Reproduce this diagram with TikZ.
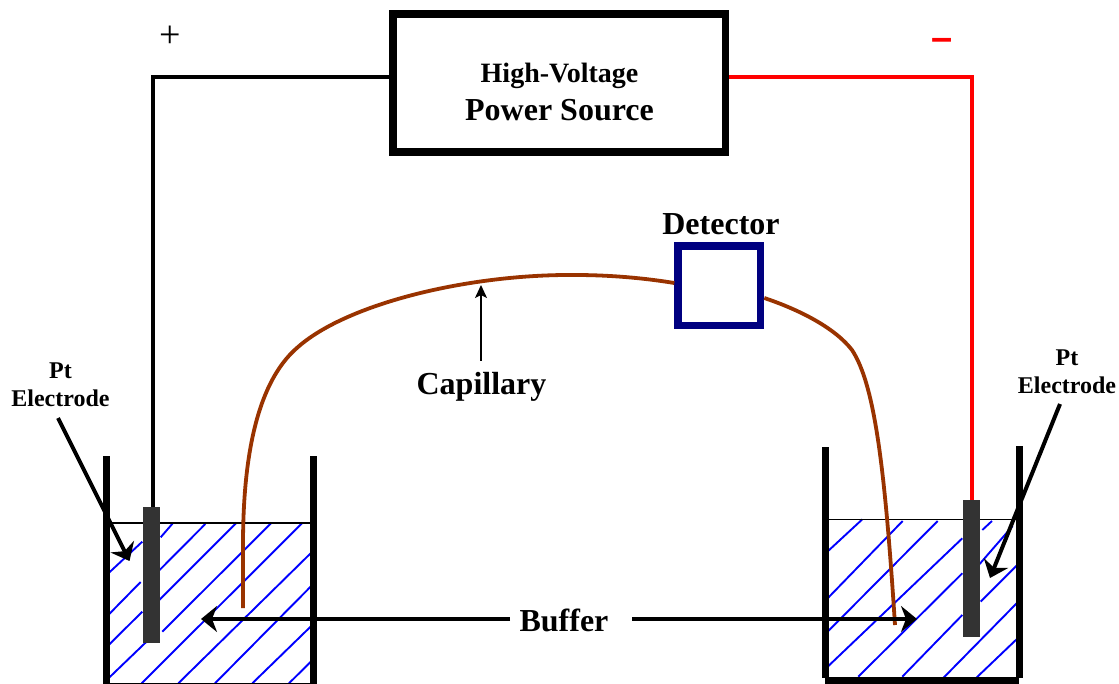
\documentclass[tikz,border=0pt]{standalone}
\usepackage{fontspec}
\setmainfont{Liberation Serif}
\newfontfamily\plussans{Liberation Sans}
\usetikzlibrary{arrows.meta,calc}
\definecolor{capcol}{HTML}{993300}
\definecolor{detcol}{HTML}{000080}
\definecolor{hatchcol}{HTML}{0000FF}
\definecolor{elecol}{HTML}{333333}
\tikzset{
  wall/.style={line width=7.5pt,black,line cap=butt},
  hatchline/.style={hatchcol,line width=1.9pt},
  waterline/.style={black,line width=1.6pt},
  electrode/.style={fill=elecol,draw=none,minimum width=17.5pt,inner sep=0pt},
  capline/.style={capcol,line width=3.8pt},
  wire/.style={line width=4pt,black},
  redwire/.style={line width=4pt,red},
  bigarrow/.style={line width=4pt,-{Stealth[length=16pt,width=26pt,inset=5pt]}},
  lbl/.style={font=\bfseries,inner sep=0pt,align=center},
}
\begin{document}
\begin{tikzpicture}[x=1pt,y=-1pt]
\useasboundingbox (0,0) rectangle (1119,684);
\fill[white] (0,0) rectangle (1119,684);
% hatching left (zoom coordinates)
\begin{scope}[shift={(90,450)},x=0.3333pt,y=-0.3333pt,hatchline]
\draw (55,370)--(157,275) (212,262)--(250,218);
\draw (48,502)--(152,396) (203,366)--(346,222);
\draw (44,597)--(157,485) (208,450)--(440,218);
\draw (48,692)--(177,568) (217,545)--(545,218);
\draw (155,700)--(638,218);
\draw (265,700)--(665,307);
\draw (375,700)--(665,407);
\draw (487,700)--(665,527);
\draw (597,700)--(676,622);
\end{scope}
% hatching right
\begin{scope}[shift={(810,440)},x=0.3333pt,y=-0.3333pt,hatchline]
\draw (50,337)--(157,238);
\draw (50,478)--(278,243);
\draw (50,578)--(383,243);
\draw (50,683)--(457,295);
\draw (145,710)--(457,400);
\draw (277,710)--(457,525);
\draw (397,717)--(620,490);
\draw (490,722)--(624,594);
\draw (517,270)--(546,243) (502,380)--(608,258) (512,485)--(624,373);
\end{scope}
% beakers
\draw[wall] (106.7,456)--(106.7,684);
\draw[wall] (313.3,456)--(313.3,684);
\draw[waterline] (107,522.7)--(313,522.7);
\draw[black,line width=1.5pt] (107,683.3)--(313,683.3);
\draw[wall] (825.3,447)--(825.3,678);
\draw[wall] (1019.3,446)--(1019.3,678);
\draw[wall] (825.3,680.5)--(1019.3,680.5);
\draw[waterline] (829,519.3)--(1016,519.3);
% electrodes and wires
\coordinate (lcorner) at (152.7,77);
\coordinate (rcorner) at (972,77);
\node[electrode,minimum height=136pt] (eL) at (151.5,575) {};
\node[electrode,minimum height=137pt] (eR) at (971.5,568.5) {};
% power source
\node[draw,line width=7.7pt,minimum width=332.2pt,minimum height=137.7pt,inner sep=0pt] (src) at (559.4,83.2) {};
\node[lbl,font=\bfseries\fontsize{28}{30}\selectfont] (hv) at (559.5,75.5) {High-Voltage};
\node[lbl,font=\bfseries\fontsize{32}{34}\selectfont] (ps) at (559.5,110) {Power Source};
\draw[wire] (src.west |- lcorner) -- (lcorner) -- (lcorner |- eL.north);
\draw[redwire] (src.east |- rcorner) -- (rcorner) -- (rcorner |- eR.north);
% detector
\node[draw=detcol,line width=7.5pt,minimum width=82.5pt,minimum height=79.5pt,inner sep=0pt] (det) at (719.3,285.8) {};
\node[lbl,font=\bfseries\fontsize{32}{34}\selectfont] (detl) at (721,224.5) {Detector};
% capillary
\coordinate (capL) at (243,608);
\coordinate (capR) at (895,625);
\draw[capline] (capL) -- (243,545) .. controls (243,470) and (253,385) .. (298,347)
  .. controls (348,303) and (470,274) .. (575,275)
  .. controls (615,275) and (650,279) .. (det.west |- 0,283);
\draw[capline] (det.east |- 0,298) .. controls (800,310) and (835,328) .. (852,350)
  .. controls (875,385) and (885,470) .. (capR);
% labels and arrows
\node[lbl,font=\bfseries\fontsize{32}{34}\selectfont] (capl) at (481.5,387) {Capillary};
\coordinate (capT) at (481,285);
\draw[line width=1.6pt,-{Stealth[length=13pt,width=12pt,inset=3pt]}] (capT |- 0,361) -- (capT);
\node[lbl,font=\bfseries\fontsize{32}{34}\selectfont] (buf) at (564,620) {Buffer};
\coordinate (bufL) at (201,619);
\coordinate (bufR) at (917,619);
\draw[bigarrow] (510,619) -- (bufL);
\draw[bigarrow] (632,619) -- (bufR);
\node[lbl,font=\bfseries\fontsize{24}{28}\selectfont] (ptL) at (60.5,384.5) {Pt\\Electrode};
\node[lbl,font=\bfseries\fontsize{24}{28}\selectfont] (ptR) at (1067,372) {Pt\\Electrode};
\coordinate (aLs) at (58,418);
\coordinate (aLe) at (129.5,561);
\coordinate (aRs) at (1060,404);
\coordinate (aRe) at (990,578);
\draw[bigarrow] (aLs) -- (aLe);
\draw[bigarrow] (aRs) -- (aRe);
\node[inner sep=0pt,font=\fontsize{38}{40}\selectfont] (plus) at (170.7,37) {+};
\node[inner sep=0pt,text=red,font=\plussans\bfseries\fontsize{38}{40}\selectfont] (minus) at (942.5,44.5) {–};
\end{tikzpicture}
\end{document}
